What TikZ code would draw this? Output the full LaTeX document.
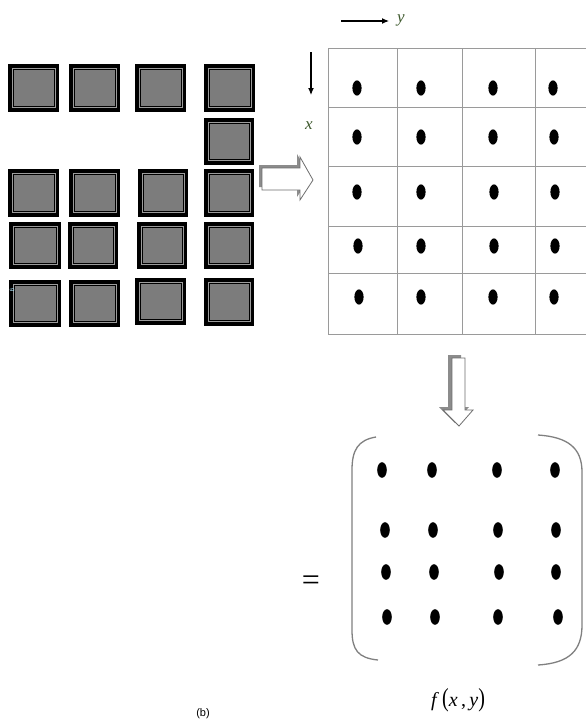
\documentclass[tikz,border=0pt]{standalone}
\usepackage{fontspec}
\setmainfont{Liberation Serif}
\newfontfamily\labsans{Liberation Sans}
\usetikzlibrary{arrows.meta}
\definecolor{blkgray}{HTML}{7C7C7C}
\definecolor{blkline}{HTML}{9C9C9C}
\definecolor{gridgray}{HTML}{9A9A9A}
\definecolor{axgreen}{HTML}{3F5A2E}
\definecolor{shadowgray}{HTML}{8C8C8C}
\definecolor{outlinegray}{HTML}{6E6E6E}
\tikzset{
  gridline/.style={draw=gridgray, line width=0.9pt},
  pixeldot/.style={fill=black, draw=none},
  axisarrow/.style={-{Latex[length=7pt,width=6pt]}, line width=1.1pt, black},
  axislabel/.style={text=axgreen, font=\itshape\fontsize{17}{17}\selectfont, inner sep=0pt},
  hollowarrow/.style={fill=white, draw=outlinegray, line width=0.8pt, line join=miter},
  arrowshadow/.style={fill=shadowgray, draw=none},
  bracket/.style={draw=gray, line width=1.3pt},
}
\newcommand\tileat[4]{%
  \fill[black] (#1,#2) rectangle (#3,#4);
  \draw[blkline, line width=0.9pt] ({#1+4},{#2+4.5}) rectangle ({#3-4},{#4-4.5});
  \fill[blkgray] ({#1+5.5},{#2+6}) rectangle ({#3-5.5},{#4-6});
}
\begin{document}
\begin{tikzpicture}[x=1pt,y=-1pt]
\useasboundingbox (0,0) rectangle (586,726);
\fill[white] (0,0) rectangle (586,726);

% ---- left tiles ----
\tileat{8}{64}{59}{112}
\tileat{69}{64}{120}{112}
\tileat{135}{64}{186}{112}
\tileat{204}{64}{255}{112}
\tileat{204}{118}{254}{165}
\tileat{8}{169}{59}{217}
\tileat{69}{169}{120}{217}
\tileat{138}{169}{188}{217}
\tileat{204}{169}{254}{217}
\tileat{9}{222}{61}{269}
\tileat{68}{222}{118}{269}
\tileat{137}{222}{187}{269}
\tileat{204}{222}{254}{269}
\tileat{9}{280}{61}{327}
\tileat{69}{280}{120}{327}
\tileat{135}{278}{186}{325}
\tileat{204}{278}{254}{326}
\node[rotate=-90, text=cyan!30, font=\labsans\fontsize{6}{6}\selectfont, inner sep=0pt] (artifact) at (12,290) {g};

% ---- right hollow arrow ----
\begin{scope}[shift={(-3,-3)}]
\fill[arrowshadow] (262,168) -- (300,168) -- (300,157) -- (313,180) -- (300,200) -- (300,190) -- (262,190) -- cycle;
\end{scope}
\draw[hollowarrow] (262,168) -- (300,168) -- (300,157) -- (313,180) -- (300,200) -- (300,190) -- (262,190) -- cycle;

% ---- grid ----
\begin{scope}
\clip (0,0) rectangle (586,726);
\draw[gridline] (328,48) -- (590,48);
\foreach \yy in {107,166,226,273,334} \draw[gridline] (328,\yy) -- (590,\yy);
\foreach \xx in {328,397,462,535} \draw[gridline] (\xx,48) -- (\xx,334);
\end{scope}
\foreach \yy/\xa/\xb/\xc/\xd in {88/357/421/493/553, 137/357/421/493/554, 192/357/421/494/555, 246/358/421/494/555, 297/359/421/493/554}{
  \fill[pixeldot] (\xa,\yy) ellipse (4.6 and 7.6);
  \fill[pixeldot] (\xb,\yy) ellipse (4.6 and 7.6);
  \fill[pixeldot] (\xc,\yy) ellipse (4.6 and 7.6);
  \fill[pixeldot] (\xd,\yy) ellipse (4.6 and 7.6);
}

% ---- axes ----
\coordinate (ystart) at (341,21);
\coordinate (yend) at (389,21);
\draw[axisarrow] (ystart) -- (yend);
\node[axislabel] (ylab) at (401,20) {y};
\coordinate (xstart) at (311,52);
\coordinate (xend) at (311,95);
\draw[axisarrow] (xstart) -- (xend);
\node[axislabel] (xlab) at (309,126) {x};

% ---- down hollow arrow ----
\begin{scope}[shift={(-4,-3)}]
\fill[arrowshadow] (452,358) -- (465,358) -- (465,410) -- (473,410) -- (459,426) -- (443,410) -- (452,410) -- cycle;
\end{scope}
\draw[hollowarrow] (452,358) -- (465,358) -- (465,410) -- (473,410) -- (459,426) -- (443,410) -- (452,410) -- cycle;

% ---- matrix ----
\draw[bracket] (376,437) .. controls (358,440) and (352,450) .. (352,470) -- (352,630) .. controls (352,650) and (358,658) .. (378,660);
\draw[bracket] (538,435) .. controls (568,437) and (582,448) .. (582,472) -- (582,625) .. controls (582,650) and (570,663) .. (538,665);
\foreach \yy/\xa/\xb/\xc/\xd in {470/382/432/497/555, 530/385/433/498/556, 572/386/434/499/556, 617/387/435/498/558}{
  \fill[pixeldot] (\xa,\yy) ellipse (4.8 and 7.8);
  \fill[pixeldot] (\xb,\yy) ellipse (4.8 and 7.8);
  \fill[pixeldot] (\xc,\yy) ellipse (4.8 and 7.8);
  \fill[pixeldot] (\xd,\yy) ellipse (4.8 and 7.8);
}
\node[font=\fontsize{32}{32}\selectfont, inner sep=0pt] (eq) at (311,583) {=};
\node[font=\fontsize{20}{20}\selectfont, inner sep=0pt] (fxy) at (458,700) {\textit{f}\,\scalebox{1}[1.3]{(}\textit{x}\,,\,\textit{y}\scalebox{1}[1.3]{)}};
\node[font=\labsans\fontsize{11}{11}\selectfont, inner sep=0pt] (caption) at (203,714) {(b)};
\end{tikzpicture}
\end{document}
